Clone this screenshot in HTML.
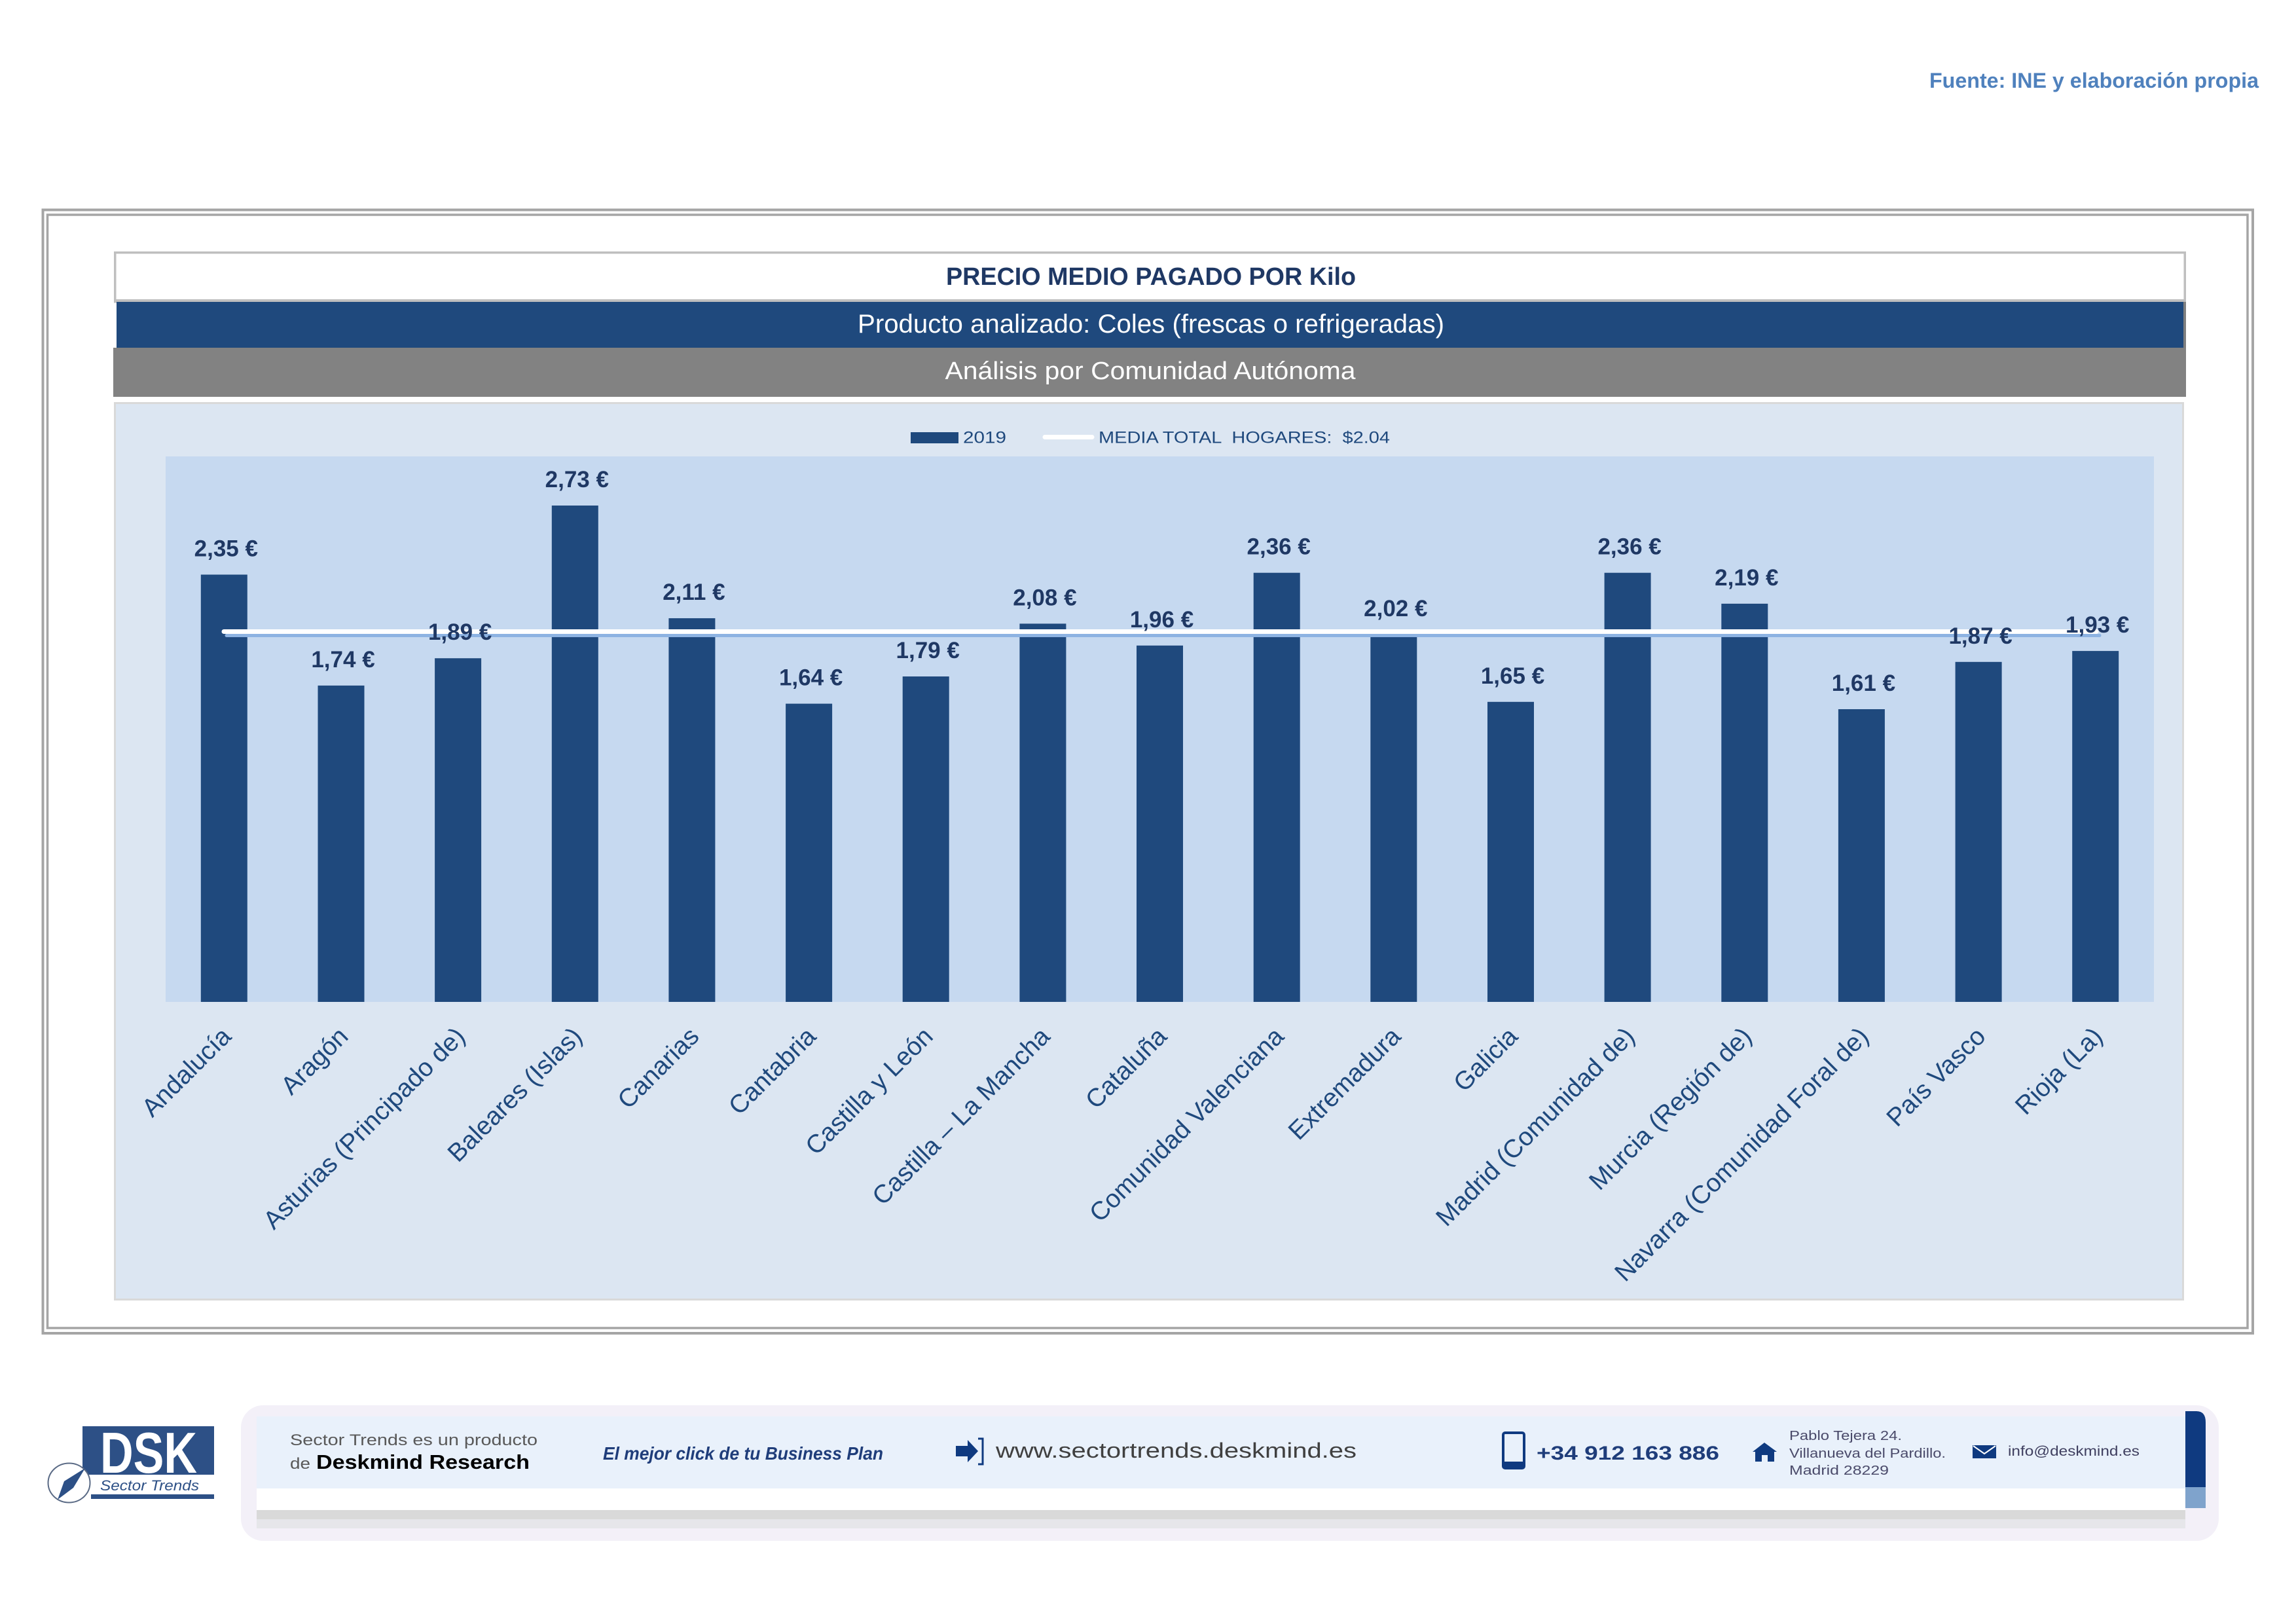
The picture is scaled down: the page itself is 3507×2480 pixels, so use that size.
<!DOCTYPE html>
<html><head><meta charset="utf-8"><style>
html,body{margin:0;padding:0;background:#fff;}
svg{display:block;}
text{font-family:"Liberation Sans",sans-serif;}
</style></head><body>
<svg width="3507" height="2480" viewBox="0 0 3507 2480" xmlns="http://www.w3.org/2000/svg">
<rect x="0" y="0" width="3507" height="2480" fill="#ffffff"/>
<!-- Fuente -->
<text x="2947" y="134" font-size="32" font-weight="bold" fill="#4f81bd" textLength="503" lengthAdjust="spacingAndGlyphs">Fuente: INE y elaboración propia</text>

<!-- outer double frame -->
<rect x="65.5" y="320.5" width="3375.5" height="1715.5" fill="none" stroke="#a5a5a5" stroke-width="4"/>
<rect x="72.5" y="328" width="3360.5" height="1700" fill="none" stroke="#a5a5a5" stroke-width="3.5"/>

<!-- title box -->
<rect x="174" y="384" width="3165" height="221" fill="#ffffff"/>
<rect x="175.75" y="385.75" width="3161.5" height="75" fill="#ffffff" stroke="#bfbfbf" stroke-width="3.5"/>
<rect x="174" y="457" width="3165" height="4" fill="#bfbfbf"/>
<rect x="178" y="461" width="3157" height="70" fill="#1f497d"/>
<rect x="3335" y="461" width="4" height="70" fill="#7f7f7f"/>
<rect x="173" y="531" width="3166" height="75" fill="#828282"/>
<text x="1758" y="435" text-anchor="middle" font-size="37.6" font-weight="bold" fill="#1f3864" textLength="626" lengthAdjust="spacingAndGlyphs">PRECIO MEDIO PAGADO POR Kilo</text>
<text x="1758" y="508" text-anchor="middle" font-size="40" fill="#ffffff" textLength="896" lengthAdjust="spacingAndGlyphs">Producto analizado: Coles (frescas o refrigeradas)</text>
<text x="1757" y="579" text-anchor="middle" font-size="38" fill="#ffffff" textLength="627" lengthAdjust="spacingAndGlyphs">Análisis por Comunidad Autónoma</text>

<!-- chart area -->
<rect x="175.5" y="615.5" width="3159" height="1369" fill="#dce6f2" stroke="#d9d9d9" stroke-width="3"/>
<!-- plot area -->
<rect x="253" y="697" width="3037" height="833" fill="#c6d9f0"/>

<!-- legend -->
<rect x="1391" y="660" width="73" height="17" fill="#1f497d"/>
<text x="1471" y="676.5" font-size="25" fill="#1f497d" textLength="66" lengthAdjust="spacingAndGlyphs">2019</text>
<line x1="1596" y1="667.5" x2="1668" y2="667.5" stroke="#ffffff" stroke-width="7" stroke-linecap="round"/>
<text x="1678" y="676.5" font-size="25" fill="#1f497d" textLength="445" lengthAdjust="spacingAndGlyphs" xml:space="preserve">MEDIA TOTAL  HOGARES:  $2.04</text>

<!-- bars -->
<g fill="#1f497d">
<rect x="306.8" y="877.5" width="71" height="652.5"/>
<rect x="485.5" y="1046.9" width="71" height="483.1"/>
<rect x="664.1" y="1005.2" width="71" height="524.8"/>
<rect x="842.8" y="772.0" width="71" height="758.0"/>
<rect x="1021.4" y="944.1" width="71" height="585.9"/>
<rect x="1200.1" y="1074.6" width="71" height="455.4"/>
<rect x="1378.7" y="1033.0" width="71" height="497.0"/>
<rect x="1557.4" y="952.4" width="71" height="577.6"/>
<rect x="1736.0" y="985.8" width="71" height="544.2"/>
<rect x="1914.7" y="874.7" width="71" height="655.3"/>
<rect x="2093.3" y="969.1" width="71" height="560.9"/>
<rect x="2272.0" y="1071.8" width="71" height="458.2"/>
<rect x="2450.6" y="874.7" width="71" height="655.3"/>
<rect x="2629.3" y="921.9" width="71" height="608.1"/>
<rect x="2807.9" y="1083.0" width="71" height="447.0"/>
<rect x="2986.6" y="1010.8" width="71" height="519.2"/>
<rect x="3165.2" y="994.1" width="71" height="535.9"/>
</g>

<!-- mean line -->
<line x1="346" y1="970.5" x2="3207" y2="970.5" stroke="#8db3e2" stroke-width="5" stroke-linecap="round"/>
<line x1="342" y1="964.5" x2="3202" y2="964.5" stroke="#ffffff" stroke-width="7" stroke-linecap="round"/>

<!-- value labels -->
<g font-size="35" font-weight="bold" fill="#1f3864" text-anchor="middle">
<text x="345.3" y="849.5">2,35 €</text>
<text x="524.0" y="1018.9">1,74 €</text>
<text x="702.6" y="977.2">1,89 €</text>
<text x="881.3" y="744.0">2,73 €</text>
<text x="1059.9" y="916.1">2,11 €</text>
<text x="1238.6" y="1046.6">1,64 €</text>
<text x="1417.2" y="1005.0">1,79 €</text>
<text x="1595.9" y="924.4">2,08 €</text>
<text x="1774.5" y="957.8">1,96 €</text>
<text x="1953.2" y="846.7">2,36 €</text>
<text x="2131.8" y="941.1">2,02 €</text>
<text x="2310.5" y="1043.8">1,65 €</text>
<text x="2489.1" y="846.7">2,36 €</text>
<text x="2667.8" y="893.9">2,19 €</text>
<text x="2846.4" y="1055.0">1,61 €</text>
<text x="3025.1" y="982.8">1,87 €</text>
<text x="3203.7" y="966.1">1,93 €</text>
</g>

<!-- category labels -->
<g font-size="39" fill="#1f497d" text-anchor="end">
<text transform="translate(355.3,1585) rotate(-45)">Andalucía</text>
<text transform="translate(534.0,1585) rotate(-45)">Aragón</text>
<text transform="translate(712.6,1585) rotate(-45)">Asturias (Principado de)</text>
<text transform="translate(891.3,1585) rotate(-45)">Baleares (Islas)</text>
<text transform="translate(1069.9,1585) rotate(-45)">Canarias</text>
<text transform="translate(1248.6,1585) rotate(-45)">Cantabria</text>
<text transform="translate(1427.2,1585) rotate(-45)">Castilla y León</text>
<text transform="translate(1605.9,1585) rotate(-45)">Castilla – La Mancha</text>
<text transform="translate(1784.5,1585) rotate(-45)">Cataluña</text>
<text transform="translate(1963.2,1585) rotate(-45)">Comunidad Valenciana</text>
<text transform="translate(2141.8,1585) rotate(-45)">Extremadura</text>
<text transform="translate(2320.5,1585) rotate(-45)">Galicia</text>
<text transform="translate(2499.1,1585) rotate(-45)">Madrid (Comunidad de)</text>
<text transform="translate(2677.8,1585) rotate(-45)">Murcia (Región de)</text>
<text transform="translate(2856.4,1585) rotate(-45)">Navarra (Comunidad Foral de)</text>
<text transform="translate(3035.1,1585) rotate(-45)">País Vasco</text>
<text transform="translate(3213.7,1585) rotate(-45)">Rioja (La)</text>
</g>

<!-- footer -->
<rect x="368" y="2146" width="3021" height="207" rx="34" ry="34" fill="#f3f0f8"/>
<rect x="392" y="2163" width="2946" height="110" fill="#e9f1fb"/>
<rect x="392" y="2273" width="2946" height="33" fill="#ffffff"/>
<rect x="392" y="2306" width="2946" height="14" fill="#d9d9d9"/>
<rect x="392" y="2320" width="2946" height="14" fill="#e6e6ea"/>
<path d="M3338 2155 L3355 2155 Q3369 2155 3369 2172 L3369 2271 L3338 2271 Z" fill="#0f3a80"/>
<rect x="3338" y="2271" width="31" height="32" fill="#7fa3cc"/>

<!-- logo -->
<rect x="126" y="2178" width="201" height="74" fill="#2d5086"/>
<text x="153" y="2249" font-size="88" font-weight="bold" fill="#ffffff" textLength="148" lengthAdjust="spacingAndGlyphs">DSK</text>
<rect x="126" y="2252" width="201" height="30" fill="#ffffff"/>
<text x="153" y="2276" font-size="22" font-style="italic" fill="#2d5086" textLength="151" lengthAdjust="spacingAndGlyphs">Sector Trends</text>
<rect x="139" y="2282" width="188" height="7" fill="#2d5086"/>
<ellipse cx="105.5" cy="2264.5" rx="32" ry="30" fill="#ffffff" stroke="#5a6a85" stroke-width="2"/>
<path d="M88 2290 L98 2262 L130 2242 L112 2272 Z" fill="#2d5086"/>

<text x="443" y="2207" font-size="24" fill="#595959" textLength="378" lengthAdjust="spacingAndGlyphs">Sector Trends es un producto</text>
<text x="443" y="2243" font-size="24" fill="#595959" textLength="31" lengthAdjust="spacingAndGlyphs">de</text>
<text x="483" y="2243" font-size="31" font-weight="bold" fill="#000000" textLength="326" lengthAdjust="spacingAndGlyphs">Deskmind Research</text>
<text x="921" y="2229" font-size="28" font-weight="bold" font-style="italic" fill="#1f3d7a" textLength="428" lengthAdjust="spacingAndGlyphs">El mejor click de tu Business Plan</text>

<path d="M1460 2208 L1478 2208 L1478 2199 L1494 2216 L1478 2233 L1478 2224 L1460 2224 Z" fill="#0f3a80"/>
<path d="M1494 2197 L1501 2197 L1501 2236 L1494 2236" fill="none" stroke="#0f3a80" stroke-width="3"/>
<text x="1521" y="2226" font-size="32" fill="#404040" textLength="551" lengthAdjust="spacingAndGlyphs">www.sectortrends.deskmind.es</text>

<rect x="2296" y="2188" width="32" height="54" rx="3" fill="none" stroke="#0f3a80" stroke-width="4"/>
<rect x="2296" y="2232" width="32" height="10" fill="#0f3a80"/>
<text x="2347" y="2229" font-size="30" font-weight="bold" fill="#1f3d7a" textLength="279" lengthAdjust="spacingAndGlyphs">+34 912 163 886</text>

<path d="M2677 2217 L2695 2203 L2714 2217 L2710 2217 L2710 2232 L2700 2232 L2700 2222 L2691 2222 L2691 2232 L2681 2232 L2681 2217 Z" fill="#0f3a80"/>
<g font-size="20" fill="#4a4a6a">
<text x="2733" y="2199" textLength="172" lengthAdjust="spacingAndGlyphs">Pablo Tejera 24.</text>
<text x="2733" y="2226" textLength="239" lengthAdjust="spacingAndGlyphs">Villanueva del Pardillo.</text>
<text x="2733" y="2252" textLength="152" lengthAdjust="spacingAndGlyphs">Madrid 28229</text>
</g>
<rect x="3013" y="2207" width="36" height="20" fill="#0f3a80"/>
<path d="M3014 2208 L3031 2220 L3048 2208" fill="none" stroke="#ffffff" stroke-width="2"/>
<text x="3067" y="2223" font-size="21" fill="#404060" textLength="201" lengthAdjust="spacingAndGlyphs">info@deskmind.es</text>
</svg>
</body></html>
